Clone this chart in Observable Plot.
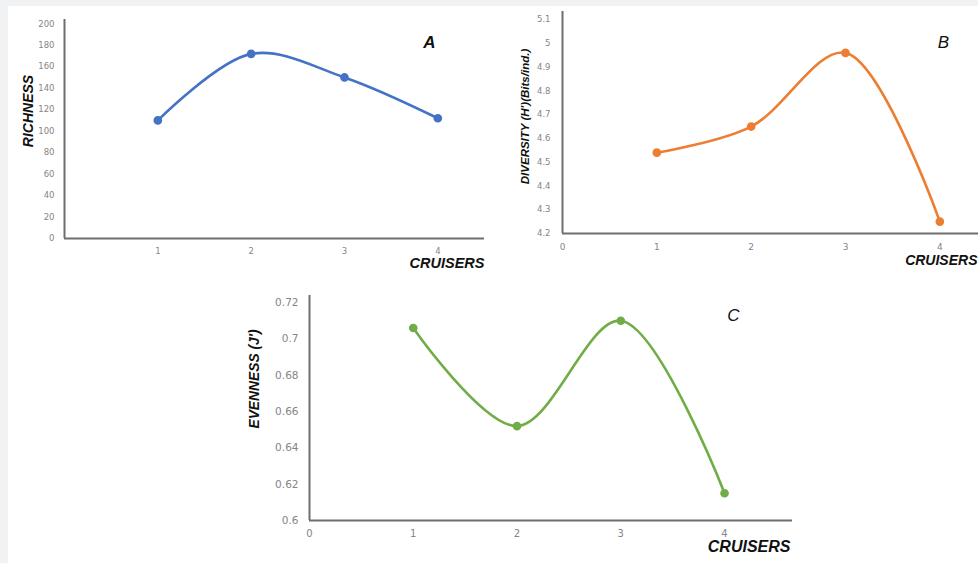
<!DOCTYPE html>
<html>
<head>
<meta charset="utf-8">
<script src="https://cdn.jsdelivr.net/npm/d3@7"></script>
<script src="https://cdn.jsdelivr.net/npm/@observablehq/plot@0.6"></script>
<style>
  html, body { margin: 0; padding: 0; background: #ffffff; }
  #root { position: relative; width: 978px; height: 563px; overflow: hidden; background: #ffffff; }
  .band-top { position: absolute; left: 0; top: 0; width: 978px; height: 6px; background: #f0f2f4; }
  .band-left { position: absolute; left: 0; top: 0; width: 8px; height: 563px; background: #f0f2f4; }
  .panel { position: absolute; }
  .panel svg { overflow: visible; }
</style>
</head>
<body>
<div id="root">
  <div class="band-top"></div>
  <div class="band-left"></div>
  <div class="panel" id="pA" style="left:0px; top:0px;"></div>
  <div class="panel" id="pB" style="left:490px; top:0px;"></div>
  <div class="panel" id="pC" style="left:240px; top:280px;"></div>
</div>
<script>
// ---- data ----
const cruisers = [1, 2, 3, 4];
const richness = [110, 172, 150, 112];
const diversity = [4.54, 4.65, 4.96, 4.25];
const evenness = [0.706, 0.652, 0.710, 0.615];

const richnessTicks = [0, 20, 40, 60, 80, 100, 120, 140, 160, 180, 200];
const diversityTicks = [4.2, 4.3, 4.4, 4.5, 4.6, 4.7, 4.8, 4.9, 5.0, 5.1];
const evennessTicks = [0.6, 0.62, 0.64, 0.66, 0.68, 0.7, 0.72];
const xTicksA = [1, 2, 3, 4];
const xTicksBC = [0, 1, 2, 3, 4];

const xTitle = ["CRUISERS"];
const yTitleA = ["RICHNESS"];
const yTitleB = ["DIVERSITY (H')(Bits/ind.)"];
const yTitleC = ["EVENNESS (J')"];
const letterA = ["A"], letterB = ["B"], letterC = ["C"];

const tickFont = "'DejaVu Sans', sans-serif";
const titleFont = "'Liberation Sans', Arial, sans-serif";
const axisColor = "#6e6e6e";
const tickColor = "#858585";

function panel(o) {
  const rows = cruisers.map((c, i) => ({x: c, y: o.values[i]}));
  return Plot.plot({
    width: o.width,
    height: o.height,
    marginLeft: o.ml, marginRight: o.mr, marginTop: o.mt, marginBottom: o.mb,
    style: {background: "transparent", overflow: "visible"},
    x: {domain: o.xDomain, axis: null},
    y: {domain: o.yDomain, axis: null},
    marks: [
      Plot.axisY({ticks: o.yTicks, tickSize: 0, tickPadding: o.yPad, fontSize: o.yFont,
        fontFamily: tickFont, color: tickColor, tickFormat: o.yFormat, label: null}),
      Plot.axisX({ticks: o.xTicks, tickSize: 0, tickPadding: o.xPad, fontSize: o.xFont,
        fontFamily: tickFont, color: tickColor, tickFormat: d => String(d), label: null}),
      Plot.ruleX([o.xDomain[0]], {stroke: axisColor, strokeWidth: 2}),
      Plot.ruleY([o.yDomain[0]], {stroke: axisColor, strokeWidth: 2}),
      Plot.line(rows, {x: "x", y: "y", curve: "catmull-rom", stroke: o.color, strokeWidth: 2.6}),
      Plot.dot(rows, {x: "x", y: "y", r: 3.6, fill: o.color, stroke: o.color}),
      Plot.text(o.yTitle, {frameAnchor: "left", textAnchor: "middle", rotate: -90, dx: o.ytdx, dy: o.ytdy,
        fontSize: o.ytFont, fontWeight: "bold", fontStyle: "italic", fontFamily: titleFont, fill: "#111"}),
      Plot.text(xTitle, {frameAnchor: o.xtAnchor, textAnchor: o.xtText, dx: o.xtdx, dy: o.xtdy,
        fontSize: o.xtFont, fontWeight: "bold", fontStyle: "italic", fontFamily: titleFont, fill: "#111"}),
      Plot.text(o.letter, {frameAnchor: "top-left", textAnchor: "middle", dx: o.ldx, dy: o.ldy,
        fontSize: o.lFont, fontWeight: o.lWeight, fontStyle: "italic", fontFamily: titleFont, fill: "#111"})
    ]
  });
}

document.getElementById("pA").append(panel({
  values: richness, color: "#4472c4",
  width: 490, height: 280, ml: 64, mr: 6, mt: 19, mb: 42,
  xDomain: [0, 4.5], yDomain: [0, 204],
  yTicks: richnessTicks, yPad: 10, yFont: 8.5, yFormat: d => String(d),
  xTicks: xTicksA, xPad: 9, xFont: 8.5,
  yTitle: yTitleA, ytdx: -36, ytdy: -18, ytFont: 14,
  xtAnchor: "bottom-right", xtText: "end", xtdx: 0, xtdy: 29, xtFont: 14.5,
  letter: letterA, ldx: 365, ldy: 16, lFont: 17, lWeight: "bold"
}));

document.getElementById("pB").append(panel({
  values: diversity, color: "#ed7d31",
  width: 488, height: 280, ml: 72, mr: 0, mt: 11, mb: 47,
  xDomain: [0, 4.41], yDomain: [4.2, 5.134],
  yTicks: diversityTicks, yPad: 12, yFont: 8.5, yFormat: d => String(+d.toFixed(1)),
  xTicks: xTicksBC, xPad: 10, xFont: 9,
  yTitle: yTitleB, ytdx: -37, ytdy: -6, ytFont: 11.5,
  xtAnchor: "bottom-right", xtText: "end", xtdx: -1, xtdy: 31, xtFont: 14,
  letter: letterB, ldx: 381, ldy: 24, lFont: 17, lWeight: "normal"
}));

document.getElementById("pC").append(panel({
  values: evenness, color: "#70ad47",
  width: 560, height: 283, ml: 69, mr: 8, mt: 15, mb: 43,
  xDomain: [0, 4.655], yDomain: [0.6, 0.7239],
  yTicks: evennessTicks, yPad: 11, yFont: 10.5, yFormat: d => String(+d.toFixed(2)),
  xTicks: xTicksBC, xPad: 9, xFont: 10,
  yTitle: yTitleC, ytdx: -55, ytdy: -29, ytFont: 13.8,
  xtAnchor: "bottom-right", xtText: "end", xtdx: -2, xtdy: 31.5, xtFont: 16,
  letter: letterC, ldx: 424, ldy: 13, lFont: 17, lWeight: "normal"
}));
</script>
</body>
</html>
